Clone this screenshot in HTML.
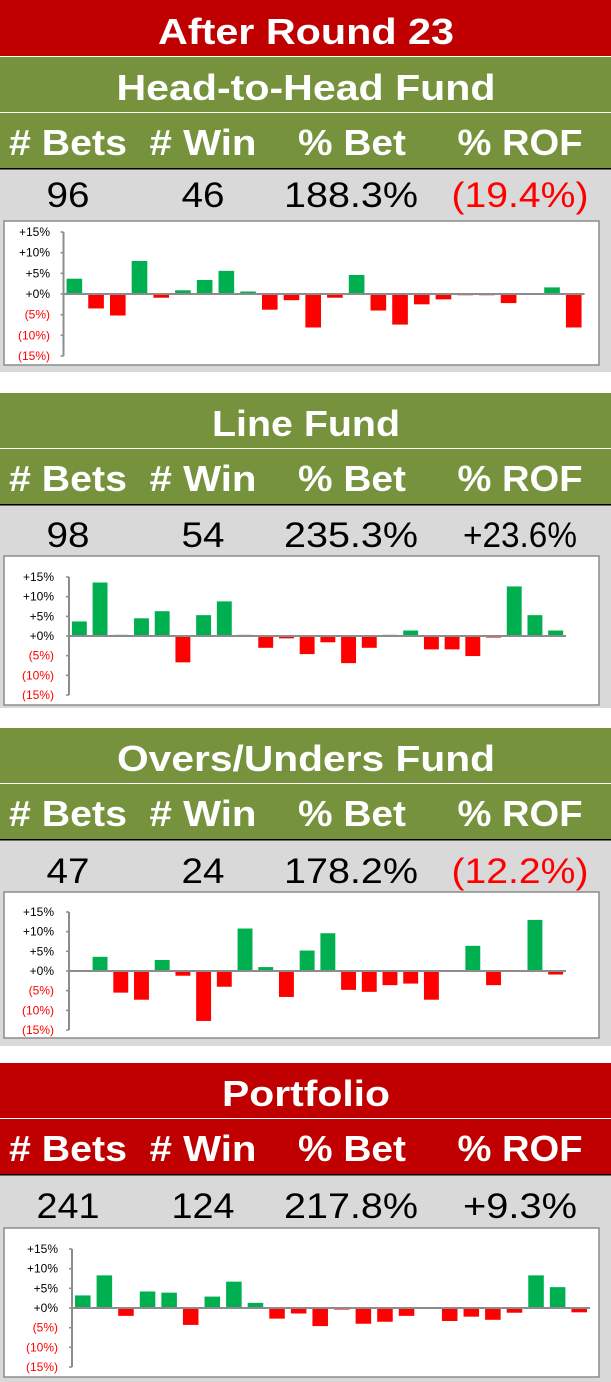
<!DOCTYPE html>
<html><head><meta charset="utf-8"><style>
html,body{margin:0;padding:0;background:#fff;}
svg{display:block;font-family:"Liberation Sans",Arial,sans-serif;}
</style></head><body>
<svg id="root" width="611" height="1382" viewBox="0 0 611 1382" xmlns="http://www.w3.org/2000/svg">
<rect x="0" y="0" width="611" height="1382" fill="#fff"/>
<rect x="0" y="0" width="611" height="56" fill="#C00000"/>
<text x="306" y="44" text-anchor="middle" font-size="36" font-weight="bold" fill="#fff" textLength="296" lengthAdjust="spacingAndGlyphs">After Round  23</text>
<g id="sections"></g>
</svg>
<script>
// ---- data ----
const rounds = ["1","2","3","4","5","6","7","8","9","10","11","12","13","14","15","16","17","18","19","20","21","22","23","24"];
const h2hValues = [3.7,-3.5,-5.2,8.0,-0.9,0.9,3.4,5.6,0.6,-3.8,-1.5,-8.1,-0.9,4.6,-4.0,-7.4,-2.5,-1.3,-0.3,-0.3,-2.2,0,1.6,-8.1];
const lineValues = [3.7,13.6,0.3,4.5,6.3,-6.7,5.3,8.8,0.3,-3.0,-0.6,-4.6,-1.6,-6.9,-3.0,0.3,1.4,-3.4,-3.4,-5.1,-0.4,12.6,5.3,1.4];
const ouValues = [0,3.6,-5.5,-7.3,2.8,-1.2,-12.7,-4.0,10.8,1.0,-6.6,5.2,9.6,-4.8,-5.3,-3.6,-3.2,-7.3,0,6.4,-3.6,0,13.0,-0.9];
const portfolioValues = [3.2,8.3,-2.0,4.2,3.9,-4.3,2.9,6.7,1.3,-2.7,-1.4,-4.6,-0.4,-4.0,-3.5,-2.0,0,-3.3,-2.2,-3.0,-1.2,8.3,5.3,-1.1];
const tickValues = [15,10,5,0,-5,-10,-15];
const tickLabels = ["+15%","+10%","+5%","+0%","(5%)","(10%)","(15%)"];
const headerLabels = ["# Bets","# Win","% Bet","% ROF"];
const h2hStats = ["96","46","188.3%","(19.4%)"];
const lineStats = ["98","54","235.3%","+23.6%"];
const ouStats = ["47","24","178.2%","(12.2%)"];
const portfolioStats = ["241","124","217.8%","+9.3%"];

const NS="http://www.w3.org/2000/svg";
const root=document.getElementById('sections');
function mk(tag,attrs,parent){const e=document.createElementNS(NS,tag);for(const k in attrs)e.setAttribute(k,attrs[k]);(parent||root).appendChild(e);return e;}

const sections=[
 {key:'h2h',title:'Head-to-Head Fund',titleW:379,color:'#76923C',top:57,stats:h2hStats,vals:h2hValues,numBase:207,greyEnd:372,box:[4,221,595,144],ax:[63.5,584.6],yv:[232,294,356],lblX:50},
 {key:'line',title:'Line Fund',titleW:188,color:'#76923C',top:393,stats:lineStats,vals:lineValues,numBase:547,greyEnd:708,box:[4,556,595,149],ax:[69,566],yv:[577,636,695],lblX:54},
 {key:'ou',title:'Overs/Unders Fund',titleW:378,color:'#76923C',top:728,stats:ouStats,vals:ouValues,numBase:883,greyEnd:1046,box:[4,892,595,146],ax:[69,566],yv:[912,971,1030],lblX:54},
 {key:'portfolio',title:'Portfolio',titleW:168,color:'#C00000',top:1063,stats:portfolioStats,vals:portfolioValues,numBase:1218,greyEnd:1382,box:[4,1228,595,149],ax:[72,590],yv:[1249,1308,1367],lblX:58}
];
const headCols=[[68,118],[203,107],[352,108],[520,125]];
const statW={'96':43,'46':43,'98':43,'54':43,'47':43,'24':43,'241':63,'124':63};

sections.forEach(s=>{
 const t=s.top;
 let e;
 e=mk('rect',{x:0,y:t,width:611,height:55,fill:s.color});
 
 
 e=mk('text',{x:306,y:t+43,'text-anchor':'middle','font-size':36,'font-weight':'bold',fill:'#fff',textLength:s.titleW,lengthAdjust:'spacingAndGlyphs'});
 e.textContent=s.title;
 
 
 e=mk('rect',{x:0,y:t+56,width:611,height:55,fill:s.color});
 
 
 headerLabels.forEach((h,i)=>{
  const c=mk('text',{x:headCols[i][0],y:t+98,'text-anchor':'middle','font-size':36,'font-weight':'bold',fill:'#fff',textLength:headCols[i][1],lengthAdjust:'spacingAndGlyphs'});
  c.textContent=h;
  
  
 });
 e=mk('rect',{x:0,y:t+111,width:611,height:1.5,fill:'#000'});
 e=mk('rect',{x:0,y:t+112.5,width:611,height:s.greyEnd-(t+112.5),fill:'#D9D9D9'});
 
 
 s.stats.forEach((v,i)=>{
  let w=statW[v]; if(!w) w=(v.length>=7)?137:(i===3?114:134);
  const neg=v.startsWith('(');
  const c=mk('text',{x:headCols[i][0]+(i===2?-1:(i===3?0:0)),y:s.numBase,'text-anchor':'middle','font-size':35,fill:neg?'#FF0000':'#000',textLength:w,lengthAdjust:'spacingAndGlyphs'});
  c.textContent=v;
  
  
 });
 // chart
 const [bx,by,bw,bh]=s.box;
 e=mk('rect',{x:bx,y:by,width:bw,height:bh,fill:'#fff',stroke:'#8C8C8C','stroke-width':1.5});
 
 
 const y15=s.yv[0],y0=s.yv[1],ym=s.yv[2];
 const yScale=v=> y0-(v/15)*(y0-y15);
 const x0=s.ax[0],x1=s.ax[1];
 const slot=(x1-x0)/rounds.length;
 const xScale=i=> x0+(i+0.5)*slot;
 // y axis
 e=mk('line',{x1:x0,y1:yScale(15),x2:x0,y2:yScale(-15),stroke:'#8C8C8C','stroke-width':2});
 
 
 tickValues.forEach((tv,i)=>{
  const yy=yScale(tv);
  mk('line',{x1:x0-3,y1:yy,x2:x0,y2:yy,stroke:'#8C8C8C','stroke-width':1.5});
  const l=mk('text',{x:s.lblX,y:yy+4,'text-anchor':'end','font-size':12,fill:tv<0?'#FF0000':'#000'});
  l.textContent=tickLabels[i];
  
  
 });
 const bwid=slot*0.72;
 s.vals.forEach((v,i)=>{
  if(v===0) return;
  const yv=yScale(v);
  const r=mk('rect',{x:xScale(i)-bwid/2,y:Math.min(yv,y0),width:bwid,height:Math.abs(yv-y0),fill:v>0?'#00B050':'#FF0000'});
  
  
 });
 e=mk('line',{x1:x0,y1:y0,x2:x1,y2:y0,stroke:'#8C8C8C','stroke-width':2});
 
 
});
</script>
</body></html>
